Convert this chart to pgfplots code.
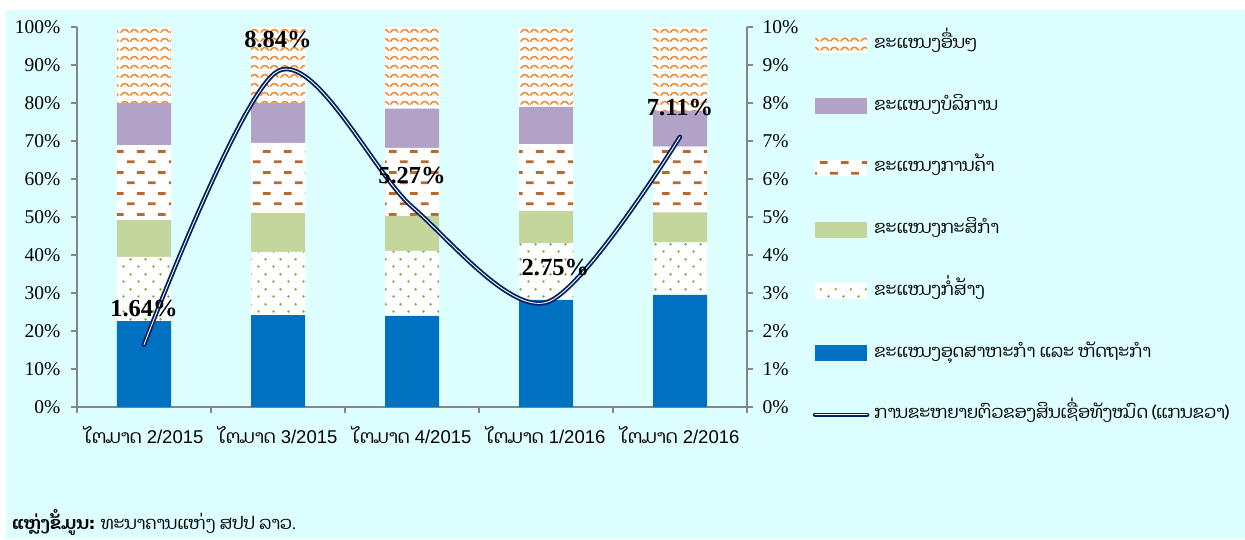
\documentclass[border=0pt]{standalone}
\usepackage{fontspec}
\setmainfont{Liberation Serif}
\newfontfamily\sans{Liberation Sans}
\newfontfamily\laofont[Script=Lao]{Dhyana}
\usepackage{pgfplots}
\pgfplotsset{compat=1.18}
\usetikzlibrary{patterns.meta}

\definecolor{bg}{RGB}{221,255,255}
\definecolor{indblue}{RGB}{0,112,192}
\definecolor{dotgreen}{RGB}{140,175,85}
\definecolor{agrgreen}{RGB}{195,214,155}
\definecolor{tradebrown}{RGB}{185,105,45}
\definecolor{servpurple}{RGB}{179,162,199}
\definecolor{othorange}{RGB}{240,135,45}
\definecolor{navy}{RGB}{0,32,96}
\definecolor{axgray}{RGB}{134,134,134}

% custom fills
\tikzdeclarepattern{name=laodots, type=uncolored,
  bottom left={(0pt,0pt)}, top right={(15pt,15pt)}, tile size={(15pt,15pt)},
  code={\fill (3.75pt,3.75pt) circle (1.5pt); \fill (11.25pt,11.25pt) circle (1.5pt);}}
\tikzdeclarepattern{name=laodash, type=uncolored,
  bottom left={(0pt,0pt)}, top right={(21pt,20.6pt)}, tile size={(21pt,20.6pt)},
  code={\fill (1pt,4pt) rectangle (9pt,6.8pt); \fill (11.5pt,14.3pt) rectangle (19.5pt,17.1pt);}}
\tikzdeclarepattern{name=laowave, type=uncolored,
  bottom left={(0pt,0pt)}, top right={(20pt,9pt)}, tile size={(20pt,9pt)},
  code={\draw[line width=1.6pt, line cap=round] (1pt,3pt) .. controls (3pt,7pt) and (7pt,7pt) .. (9pt,3pt);
        \draw[line width=1.6pt, line cap=round] (11pt,3pt) .. controls (13pt,7pt) and (17pt,7pt) .. (19pt,3pt);}}

\pgfplotsset{
  barlegend/.style={legend image code/.code={\path[##1] (0pt,-8pt) rectangle (52pt,8pt);}},
  linelegend/.style={legend image code/.code={\draw[##1] (0pt,0pt) -- (52pt,0pt);}},
  navyline/.style={draw=navy, line width=1.8pt, double=white, double distance=0.9pt, line cap=round},
}

\begin{document}
\begin{tikzpicture}
\useasboundingbox (0,0) rectangle (1245pt,-539pt);
\fill[white] (0,0) rectangle (1245pt,-539pt);
\fill[bg] (6pt,-10pt) rectangle (1245pt,-539pt);

\begin{axis}[
  at={(77pt,-407pt)}, anchor=south west,
  width=670pt, height=380pt, scale only axis,
  ybar stacked, bar width=54pt,
  xmin=-0.5, xmax=4.5, ymin=0, ymax=100,
  axis x line*=bottom, axis y line*=left,
  axis line style={draw=axgray, line width=1.3pt},
  tick align=outside,
  xtick={0,...,4},
  xticklabels={{\laofont ໄຕມາດ} 2/2015,{\laofont ໄຕມາດ} 3/2015,{\laofont ໄຕມາດ} 4/2015,{\laofont ໄຕມາດ} 1/2016,{\laofont ໄຕມາດ} 2/2016},
  major x tick style={draw=none},
  minor xtick={-0.5,0.5,...,4.5},
  minor tick length=6pt,
  major tick length=6pt,
  every tick/.style={draw=axgray, line width=1.3pt},
  ytick={0,10,...,100},
  yticklabel={\pgfmathprintnumber{\tick}\%},
  /pgf/number format/assume math mode=true,
  yticklabel style={font=\fontsize{19.5}{19.5}\selectfont, xshift=-7pt},
  xticklabel style={font=\sans\fontsize{18.5}{18.5}\selectfont, yshift=-10pt},
  reverse legend,
  legend style={at={(1.098,0.978)}, anchor=north west, draw=none, fill=none,
    inner sep=0pt, row sep=43.7pt, column sep=5pt,
    font=\laofont\fontsize{17.5}{20}\selectfont,
    nodes={inner sep=0pt, text height=13pt, text depth=5pt}},
  legend cell align=left,
]
\addlegendimage{navyline, linelegend}
\addlegendentry{ການຂະຫຍາຍຕົວຂອງສິນເຊື່ອທັງໝົດ (ແກນຂວາ)}
\addplot[fill=indblue, draw=none, barlegend] coordinates {(0,22.6) (1,24.2) (2,24.0) (3,28.2) (4,29.5)};
\addlegendentry{ຂະແໜງອຸດສາຫະກຳ ແລະ ຫັດຖະກຳ}
\addplot[fill=white, draw=none, postaction={pattern=laodots, pattern color=dotgreen}, barlegend] coordinates {(0,16.9) (1,16.6) (2,17.1) (3,14.9) (4,13.8)};
\addlegendentry{ຂະແໜງກໍ່ສ້າງ}
\addplot[fill=agrgreen, draw=none, barlegend] coordinates {(0,9.7) (1,10.3) (2,9.2) (3,8.5) (4,7.9)};
\addlegendentry{ຂະແໜງກະສິກຳ}
\addplot[fill=white, draw=none, postaction={pattern=laodash, pattern color=tradebrown}, barlegend] coordinates {(0,19.7) (1,18.4) (2,17.9) (3,17.6) (4,17.3)};
\addlegendentry{ຂະແໜງການຄ້າ}
\addplot[fill=servpurple, draw=none, barlegend] coordinates {(0,11.1) (1,10.5) (2,10.3) (3,9.8) (4,9.4)};
\addlegendentry{ຂະແໜງບໍລິການ}
\addplot[fill=white, draw=none, postaction={pattern=laowave, pattern color=othorange}, barlegend] coordinates {(0,20.0) (1,20.0) (2,21.5) (3,21.0) (4,22.1)};
\addlegendentry{ຂະແໜງອື່ນໆ}
\end{axis}

\begin{axis}[
  at={(77pt,-407pt)}, anchor=south west,
  width=670pt, height=380pt, scale only axis,
  xmin=-0.5, xmax=4.5, ymin=0, ymax=10,
  hide x axis, axis y line*=right,
  axis line style={draw=axgray, line width=1.3pt},
  tick align=outside, major tick length=6pt,
  every tick/.style={draw=axgray, line width=1.3pt},
  ytick={0,1,...,10},
  yticklabel={\pgfmathprintnumber{\tick}\%},
  /pgf/number format/assume math mode=true,
  yticklabel style={font=\fontsize{19.5}{19.5}\selectfont, xshift=6pt},
  clip=false,
]
\addplot[navyline, smooth, tension=0.5] coordinates {(0,1.64) (1,8.84) (2,5.27) (3,2.75) (4,7.11)};
\begin{scope}[every node/.style={font=\bfseries\fontsize{24.5}{24.5}\selectfont}]
\node at (axis cs:0,2.58) {1.64\%};
\node at (axis cs:1,9.66) {8.84\%};
\node at (axis cs:2,6.1) {5.27\%};
\node at (axis cs:3.07,3.68) {2.75\%};
\node at (axis cs:4,7.89) {7.11\%};
\end{scope}
\end{axis}

\node[anchor=west, font=\laofont\fontsize{17.5}{20}\selectfont, inner sep=0pt] at (12pt,-522pt)
  {{\bfseries ແຫຼ່ງຂໍ້ມູນ:} ທະນາຄານແຫ່ງ ສປປ ລາວ.};
\end{tikzpicture}
\end{document}
